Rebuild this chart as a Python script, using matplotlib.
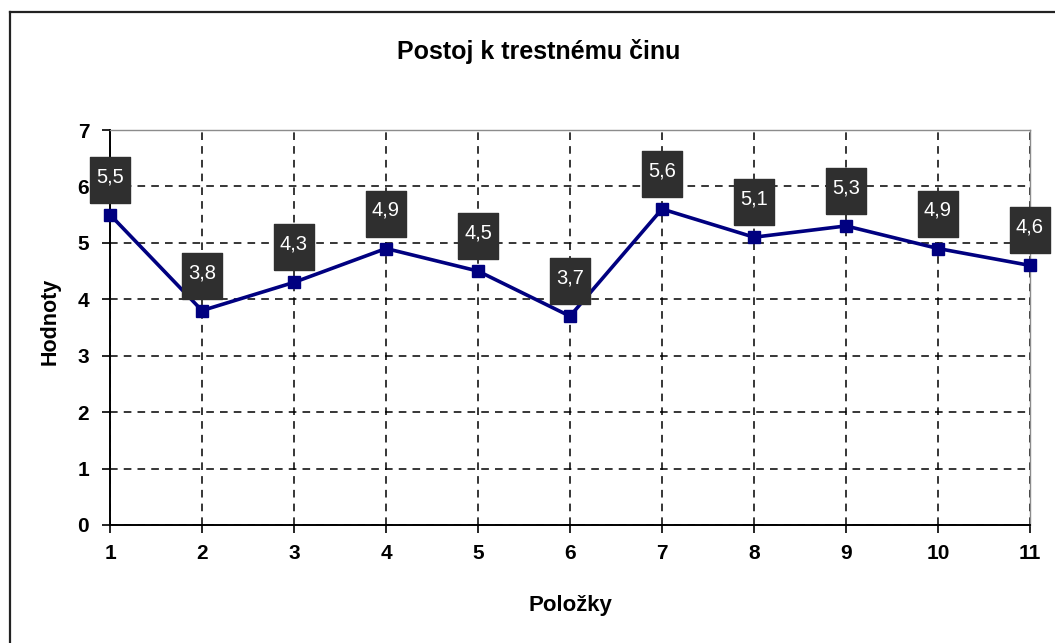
import matplotlib.pyplot as plt
from matplotlib.lines import Line2D
from matplotlib.transforms import offset_copy

plt.rcParams['font.family'] = ['Liberation Sans', 'DejaVu Sans']

# Data
items = [1, 2, 3, 4, 5, 6, 7, 8, 9, 10, 11]
values = [5.5, 3.8, 4.3, 4.9, 4.5, 3.7, 5.6, 5.1, 5.3, 4.9, 4.6]
value_labels = ['5,5', '3,8', '4,3', '4,9', '4,5', '3,7', '5,6', '5,1', '5,3', '4,9', '4,6']
y_ticks = [0, 1, 2, 3, 4, 5, 6, 7]

title = 'Postoj k trestnému činu'
xlabel = 'Položky'
ylabel = 'Hodnoty'

fig = plt.figure(figsize=(10.55, 6.43), dpi=100)
ax = fig.add_axes([110 / 1055, 1 - 525 / 643, 920 / 1055, 395 / 643])

# grid
ax.grid(True, color='black', linestyle=(0, (5, 4)), linewidth=1.1)
ax.set_axisbelow(True)

ax.plot(items, values, color='#000080', linewidth=2.6, marker='s',
        markersize=8, markerfacecolor='#000080', markeredgecolor='#000080',
        zorder=3, clip_on=False)

# value labels: dark boxes above the points
box_trans = offset_copy(ax.transData, fig=fig, y=35, units='dots')
txt_trans = offset_copy(ax.transData, fig=fig, y=38, units='dots')
box_marker = [(-41, -46), (41, -46), (41, 46), (-41, 46), (-41, -46)]
ax.plot(items, values, linestyle='none', marker=box_marker, markersize=33,
        markerfacecolor='#2f2f2f', markeredgecolor='#2f2f2f',
        transform=box_trans, zorder=4, clip_on=False)
for x, y, lab in zip(items, values, value_labels):
    ax.text(x, y, lab, transform=txt_trans, ha='center', va='center',
            color='white', fontsize=14.5, zorder=5, clip_on=False)

ax.set_xlim(1, 11)
ax.set_ylim(0, 7)
ax.set_xticks(items)
ax.set_yticks(y_ticks)
ax.tick_params(axis='both', direction='out', length=6, width=1.2,
               labelsize=15)
ax.tick_params(axis='x', pad=8)
ax.tick_params(axis='y', pad=9)
for lab in ax.get_xticklabels() + ax.get_yticklabels():
    lab.set_fontweight('bold')

for s in ['left', 'bottom']:
    ax.spines[s].set_color('black')
    ax.spines[s].set_linewidth(1.4)
for s in ['top', 'right']:
    ax.spines[s].set_color('#8c8c8c')
    ax.spines[s].set_linewidth(1.0)

ax.set_xlabel(xlabel, fontsize=16, fontweight='bold')
ax.xaxis.set_label_coords(0.5, (525 - 605) / 395)
ax.xaxis.label.set_va('center')
ax.set_ylabel(ylabel, fontsize=15.5, fontweight='bold')
ax.yaxis.set_label_coords((50 - 110) / 920, (525 - 321) / 395)
ax.yaxis.label.set_va('center')

fig.text(539 / 1055, 1 - 52 / 643, title, ha='center', va='center',
         fontsize=18, fontweight='bold')

# outer chart frame (left and top edges only visible)
fig.add_artist(Line2D([10 / 1055, 10 / 1055], [0, 1 - 12 / 643],
                      transform=fig.transFigure, color='#222222', linewidth=1.6))
fig.add_artist(Line2D([10 / 1055, 1], [1 - 12 / 643, 1 - 12 / 643],
                      transform=fig.transFigure, color='#222222', linewidth=1.6))

fig.savefig('out.png', dpi=100)
